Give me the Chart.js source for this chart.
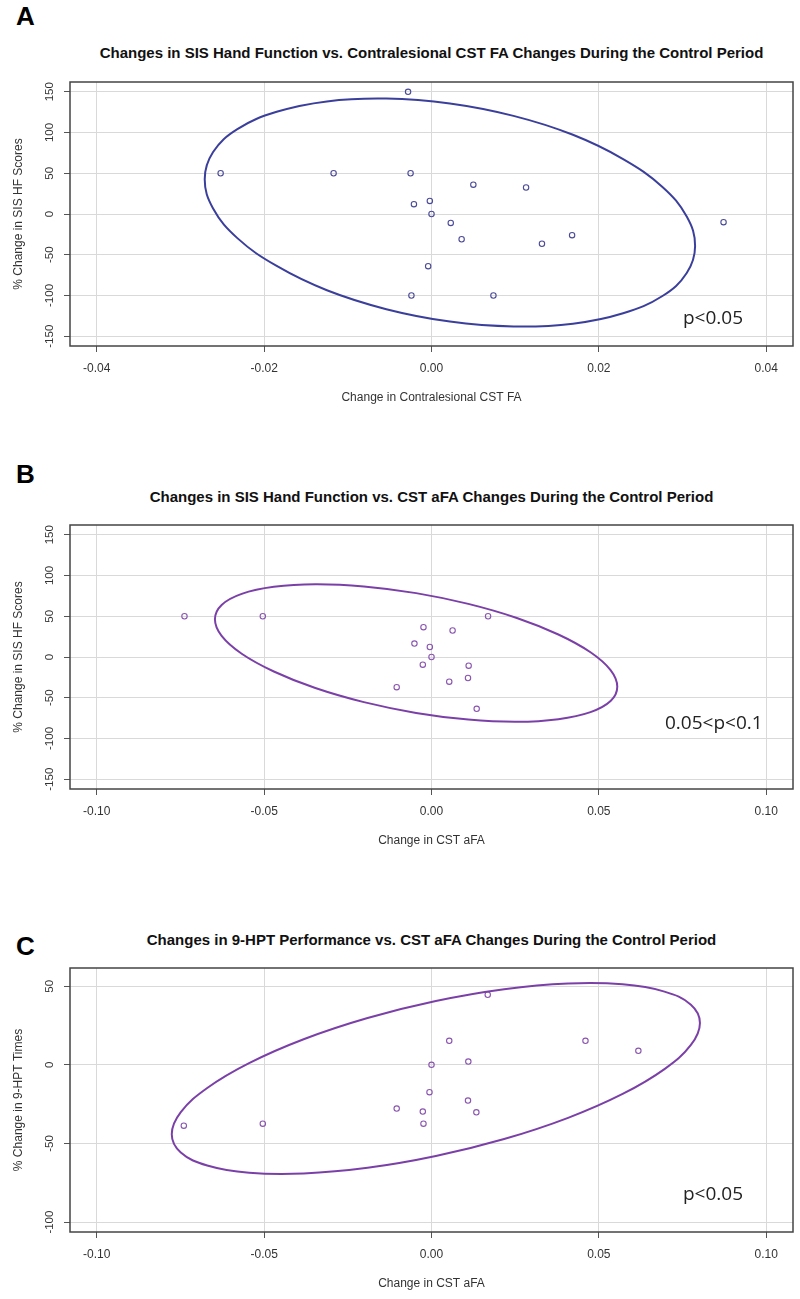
<!DOCTYPE html>
<html>
<head>
<meta charset="utf-8">
<script src="https://cdn.jsdelivr.net/npm/chart.js"></script>
<style>
  body { margin: 0; background: #fff; width: 800px; height: 1299px; position: relative; overflow: hidden;
         font-family: "Liberation Sans", Arial, sans-serif; }
  canvas { position: absolute; left: 0; }
  .letter { position: absolute; left: 16px; font-weight: bold; font-size: 26px; color: #000;
            transform: translateY(-50%); line-height: 1; }
  .title { position: absolute; left: 431.5px; font-weight: bold; font-size: 15px; color: #111;
           transform: translate(-50%, -50%); white-space: nowrap; line-height: 1; }
  .pval { position: absolute; font-family: "Open Sans", sans-serif; font-size: 19px; color: #222;
          transform: translateY(-50%); line-height: 1; white-space: nowrap; }
</style>
</head>
<body>
<div class="letter" style="top:16px">A</div>
<div class="title" style="top:52px">Changes in SIS Hand Function vs. Contralesional CST FA Changes During the Control Period</div>
<canvas id="chartA" width="800" height="433" style="top:0px"></canvas>
<div class="pval" style="left:683px;top:317px">p&lt;0.05</div>

<div class="letter" style="top:474px">B</div>
<div class="title" style="top:496px">Changes in SIS Hand Function vs. CST aFA Changes During the Control Period</div>
<canvas id="chartB" width="800" height="433" style="top:443px"></canvas>
<div class="pval" style="left:665px;top:722px">0.05&lt;p&lt;0.1</div>

<div class="letter" style="top:946px">C</div>
<div class="title" style="top:939px">Changes in 9-HPT Performance vs. CST aFA Changes During the Control Period</div>
<canvas id="chartC" width="800" height="433" style="top:886px"></canvas>
<div class="pval" style="left:683px;top:1193px">p&lt;0.05</div>

<script>
// panel A: SIS hand function vs contralesional CST FA
var aX = [-0.0252, -0.0117, -0.0028, -0.0025, 0.0050, 0.0113, -0.0021, -0.0002, 0.0000,
          0.0023, 0.0036, 0.0132, 0.0168, 0.0349, -0.0004, -0.0024, 0.0074];
var aY = [50, 50, 150, 50, 36, 32.5, 12, 16, 0,
          -11, -31, -36.5, -26, -10, -64, -100, -100];
// outline of the drawn ellipse, read around the curve
var aEllipseX = [0.0315, 0.0305, 0.0276, 0.0229, 0.0169, 0.0098, 0.0022, -0.0054, -0.0125,
                 -0.0185, -0.0232, -0.0261, -0.0271, -0.0261, -0.0232, -0.0185, -0.0125, -0.0054,
                 0.0022, 0.0098, 0.0169, 0.0229, 0.0276, 0.0305];
var aEllipseY = [-39.2, -72.4, -100.6, -121.8, -134.6, -138.0, -132.0, -116.8, -93.6,
                 -63.8, -29.6, 6.8, 42.8, 76.0, 104.2, 125.4, 138.2, 141.6,
                 135.6, 120.4, 97.2, 67.4, 33.2, -3.2];

// panel B: SIS hand function vs CST aFA
var bX = [-0.0738, -0.0504, -0.0104, 0.0169, -0.0024, 0.0063, -0.0051, -0.0005, 0.0000,
          -0.0026, 0.0111, 0.0109, 0.0053, 0.0135];
var bY = [50, 50, -37, 50, 36.6, 32.5, 16.5, 12.3, 0,
          -9.4, -10.6, -25.8, -30.3, -63.6];
var bEllipseX = [0.0555, 0.0535, 0.0475, 0.0379, 0.0255, 0.0110, -0.0046, -0.0202, -0.0347,
                 -0.0471, -0.0567, -0.0627, -0.0647, -0.0627, -0.0567, -0.0471, -0.0347, -0.0202,
                 -0.0046, 0.0110, 0.0255, 0.0379, 0.0475, 0.0535];
var bEllipseY = [-36.5, -54.1, -67.7, -76.3, -79.5, -76.8, -68.6, -55.4, -38.1,
                 -17.8, 4.0, 25.9, 46.3, 63.9, 77.5, 86.1, 89.3, 86.6,
                 78.4, 65.2, 47.9, 27.6, 5.8, -16.1];

// panel C: 9-HPT times vs CST aFA
var cX = [-0.0740, -0.0504, -0.0104, 0.0168, 0.0053, 0.0460, 0.0618, 0.0110, 0.0000,
          -0.0006, 0.0109, -0.0026, 0.0134, -0.0024];
var cY = [-38.7, -37.4, -27.8, 44.6, 15.3, 15.3, 8.9, 2.1, 0,
          -17.4, -22.7, -29.7, -30.2, -37.4];
var cEllipseX = [0.0802, 0.0775, 0.0696, 0.0571, 0.0408, 0.0217, 0.0013, -0.0191, -0.0382,
                 -0.0545, -0.0670, -0.0749, -0.0776, -0.0749, -0.0670, -0.0545, -0.0382, -0.0191,
                 0.0013, 0.0217, 0.0408, 0.0571, 0.0696, 0.0775];
var cEllipseY = [26.7, 12.7, -2.7, -18.5, -33.7, -47.2, -58.0, -65.5, -69.1,
                 -68.6, -64.0, -55.7, -44.1, -30.1, -14.7, 1.1, 16.3, 29.8,
                 40.6, 48.1, 51.7, 51.2, 46.6, 38.3];

var xTicksA = [-0.04, -0.02, 0, 0.02, 0.04];
var xTicksBC = [-0.10, -0.05, 0, 0.05, 0.10];
var yTicksAB = [-150, -100, -50, 0, 50, 100, 150];
var yTicksC = [-100, -50, 0, 50];

function zip(xs, ys) {
  return xs.map(function (x, i) { return { x: x, y: ys[i] }; });
}
// wrap the outline so every drawn segment gets neighbours on both sides;
// the two extra end segments are hidden below
function wrapLoop(pts) {
  var n = pts.length;
  return [pts[n - 1]].concat(pts, [pts[0], pts[1]]);
}

// box around the plot region, like R's box()
var boxPlugin = {
  id: 'box',
  afterDatasetsDraw: function (chart) {
    var a = chart.chartArea, ctx = chart.ctx;
    ctx.save();
    ctx.strokeStyle = '#444';
    ctx.lineWidth = 1.5;
    ctx.strokeRect(a.left, a.top, a.right - a.left, a.bottom - a.top);
    ctx.restore();
  }
};

function makePanel(id, o) {
  var loop = wrapLoop(zip(o.ellX, o.ellY));
  var lastSeg = loop.length - 2;
  new Chart(document.getElementById(id), {
    type: 'scatter',
    data: {
      datasets: [
        {
          type: 'line',
          data: loop,
          borderColor: o.color,
          borderWidth: 2,
          pointRadius: 0,
          tension: 0.4,
          fill: false,
          segment: {
            borderColor: function (ctx) {
              return (ctx.p0DataIndex === 0 || ctx.p0DataIndex === lastSeg) ? 'rgba(0,0,0,0)' : undefined;
            }
          }
        },
        {
          data: zip(o.x, o.y),
          borderColor: o.pointColor,
          backgroundColor: 'rgba(0,0,0,0)',
          pointRadius: 2.7,
          borderWidth: 1.1
        }
      ]
    },
    options: {
      responsive: false,
      animation: false,
      layout: { padding: { top: 82, right: 7, left: 0, bottom: 0 } },
      plugins: { legend: { display: false }, tooltip: { enabled: false } },
      scales: {
        x: {
          type: 'linear',
          min: o.xMin, max: o.xMax,
          afterBuildTicks: function (s) { s.ticks = o.xTicks.map(function (v) { return { value: v }; }); },
          afterFit: function (s) { s.height = 87; },
          grid: { color: '#d9d9d9', tickColor: '#555', tickLength: 6, lineWidth: 1 },
          border: { display: false },
          ticks: {
            color: '#333', padding: 9, maxRotation: 0,
            font: { family: 'Liberation Sans', size: 12 },
            callback: function (v) { return v.toFixed(2); }
          },
          title: {
            display: true, text: o.xTitle, color: '#333',
            font: { family: 'Liberation Sans', size: 12 },
            padding: { bottom: 28 }
          }
        },
        y: {
          min: o.yMin, max: o.yMax,
          afterBuildTicks: function (s) { s.ticks = o.yTicks.map(function (v) { return { value: v }; }); },
          afterFit: function (s) { s.width = 70; },
          grid: { color: '#d9d9d9', tickColor: '#555', tickLength: 6, lineWidth: 1 },
          border: { display: false },
          ticks: {
            color: '#333', padding: 3, minRotation: 90, maxRotation: 90, crossAlign: 'center',
            font: { family: 'Liberation Sans', size: 11.5 }
          },
          title: {
            display: true, text: o.yTitle, color: '#333',
            font: { family: 'Liberation Sans', size: 12 },
            padding: { top: 11 }
          }
        }
      }
    },
    plugins: [boxPlugin]
  });
}

makePanel('chartA', {
  x: aX, y: aY, ellX: aEllipseX, ellY: aEllipseY,
  color: '#3b3f9c', pointColor: '#4a4a98',
  xMin: -0.0432, xMax: 0.0432, yMin: -162, yMax: 162,
  xTicks: xTicksA, yTicks: yTicksAB,
  xTitle: 'Change in Contralesional CST FA', yTitle: '% Change in SIS HF Scores'
});
makePanel('chartB', {
  x: bX, y: bY, ellX: bEllipseX, ellY: bEllipseY,
  color: '#7b40a8', pointColor: '#8a55b0',
  xMin: -0.108, xMax: 0.108, yMin: -162, yMax: 162,
  xTicks: xTicksBC, yTicks: yTicksAB,
  xTitle: 'Change in CST aFA', yTitle: '% Change in SIS HF Scores'
});
makePanel('chartC', {
  x: cX, y: cY, ellX: cEllipseX, ellY: cEllipseY,
  color: '#7b40a8', pointColor: '#8a55b0',
  xMin: -0.108, xMax: 0.108, yMin: -106.3, yMax: 61.6,
  xTicks: xTicksBC, yTicks: yTicksC,
  xTitle: 'Change in CST aFA', yTitle: '% Change in 9-HPT Times'
});
</script>
</body>
</html>
